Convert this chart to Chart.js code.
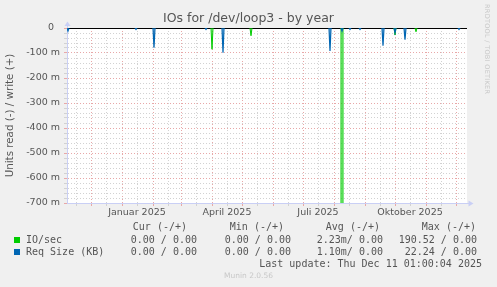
<!DOCTYPE html>
<html>
<head>
<meta charset="utf-8">
<title>IOs for /dev/loop3 - by year</title>
<script src="https://cdn.jsdelivr.net/npm/chart.js@4.4.1/dist/chart.umd.min.js"></script>
<style>
  html, body { margin: 0; padding: 0; background: #f0f0f0; }
  #wrap { position: relative; width: 497px; height: 287px; overflow: hidden;
          font-family: "DejaVu Sans Mono", monospace; font-size: 10px; color: #555; }
  #chart { position: absolute; left: 0; top: 0; }
  .t { position: absolute; white-space: pre; line-height: 12px; }
  .sw { position: absolute; width: 6px; height: 6px; }
  #rrd { position: absolute; left: 483px; top: 4px; writing-mode: vertical-rl;
         font-family: "DejaVu Sans"; font-size: 6.5px; color: #c8c8c8; letter-spacing: 0.3px; }
  #munin { position: absolute; left: 0; width: 497px; top: 271px; text-align: center;
           font-family: "DejaVu Sans"; font-size: 7.5px; color: #c8c8c8; }
</style>
</head>
<body>
<div id="wrap">
  <canvas id="chart" width="497" height="287"></canvas>
  <div id="rrd">RRDTOOL / TOBI OETIKER</div>
  <div id="munin">Munin 2.0.56</div>
</div>
<script>
// time range shown (one pixel per day)
const rangeStart = '2024-11-07';
const rangeEnd = '2025-12-12';

// grid: month starts (red) and mid-month (grey)
const monthStarts = ['2024-12-01', '2025-01-01', '2025-02-01', '2025-03-01', '2025-04-01', '2025-05-01',
                     '2025-06-01', '2025-07-01', '2025-08-01', '2025-09-01', '2025-10-01', '2025-11-01', '2025-12-01'];
const midMonths = ['2024-11-16', '2024-12-16', '2025-01-16', '2025-02-16', '2025-03-16', '2025-04-16', '2025-05-16',
                   '2025-06-16', '2025-07-16', '2025-08-16', '2025-09-16', '2025-10-16', '2025-11-16'];
const labelDates = ['2025-01-16', '2025-04-16', '2025-07-16', '2025-10-16'];
const xLabels = ['Januar 2025', 'April 2025', 'Juli 2025', 'Oktober 2025'];

// IO/sec (read, drawn negative)
const ioDates = ['2025-04-01', '2025-05-10', '2025-08-09', '2025-10-01', '2025-10-22'];
const ioValues = [-0.085, -0.031, -190.52, -0.028, -0.015];

// Req Size (KB) (read, drawn negative)
const reqDates = ['2024-11-08', '2025-01-15', '2025-02-02', '2025-03-26', '2025-04-12', '2025-07-28',
                  '2025-08-09', '2025-08-17', '2025-08-27', '2025-09-19', '2025-10-01', '2025-10-11', '2025-12-04'];
const reqValues = [-0.012, -0.006, -0.079, -0.006, -0.099, -0.092,
                   -0.012, -0.006, -0.006, -0.071, -0.019, -0.047, -0.006];

// y axis range (units)
const yMin = -0.7;
const yMax = 0;

// legend table
const legendHeads = ['Cur (-/+)', 'Min (-/+)', 'Avg (-/+)', 'Max (-/+)'];
const seriesNames = ['IO/sec', 'Req Size (KB)'];
const seriesColors = ['#00cc00', '#0066b3'];
const curValues = ['0.00 / 0.00', '0.00 / 0.00'];
const minValues = ['0.00 / 0.00', '0.00 / 0.00'];
const avgValues = ['2.23m/ 0.00', '1.10m/ 0.00'];
const maxValues = ['190.52 / 0.00', '22.24 / 0.00'];
const lastUpdate = 'Last update: Thu Dec 11 01:00:04 2025';

const baseDate = Date.parse('2024-12-01');
const dayOf = d => Math.round((Date.parse(d) - baseDate) / 86400000);

const redGrid = '#e8a8a8';
const greyGrid = '#d2d2d2';
const axisColor = '#c9cff5';

const startDays = monthStarts.map(dayOf);
const labelDays = labelDates.map(dayOf);

// each sample spike: zero the day before, value, zero the day after
function spikeSeries(dates, values) {
    const pts = [{x: dayOf(rangeStart), y: 0}, {x: dayOf(rangeEnd), y: 0}];
    dates.forEach((d, i) => {
        const x = dayOf(d);
        pts.push({x: x - 1, y: 0}, {x: x, y: values[i]}, {x: x + 1, y: 0});
    });
    return pts.sort((a, b) => a.x - b.x);
}

const hideZero = ctx => (ctx.p0.parsed.y === 0 && ctx.p1.parsed.y === 0) ? 'rgba(0,0,0,0)' : undefined;

const datasets = [
    {
        label: seriesNames[0],
        data: spikeSeries(ioDates, ioValues),
        borderColor: seriesColors[0],
        backgroundColor: 'rgba(0, 204, 0, 0.3)',
        fill: 'origin',
        borderWidth: 1,
        pointRadius: 0,
        tension: 0,
        order: 2,
        segment: {borderColor: hideZero}
    },
    {
        label: seriesNames[1],
        data: spikeSeries(reqDates, reqValues),
        borderColor: seriesColors[1],
        backgroundColor: 'rgba(0, 102, 179, 0.35)',
        fill: 'origin',
        borderWidth: 1.2,
        pointRadius: 0,
        tension: 0,
        order: 1,
        segment: {borderColor: hideZero}
    }
];

const milli = v => Math.round(v * 1000);

// white plot area + axis arrows
const plotDecor = {
    id: 'plotDecor',
    beforeDraw(chart) {
        const {ctx, chartArea: a} = chart;
        ctx.save();
        ctx.fillStyle = '#ffffff';
        ctx.fillRect(a.left, a.top, a.right - a.left, a.bottom - a.top);
        ctx.restore();
    },
    afterDraw(chart) {
        const {ctx, chartArea: a} = chart;
        const l = Math.round(a.left) + 0.5, b = Math.round(a.bottom) + 0.5;
        ctx.save();
        ctx.strokeStyle = axisColor;
        ctx.fillStyle = axisColor;
        ctx.lineWidth = 1;
        ctx.beginPath();
        ctx.moveTo(l, a.top); ctx.lineTo(l, a.top - 2);
        ctx.moveTo(a.right, b); ctx.lineTo(a.right + 2, b);
        ctx.stroke();
        ctx.beginPath();
        ctx.moveTo(l, a.top - 6.5); ctx.lineTo(l - 3, a.top - 2); ctx.lineTo(l + 3, a.top - 2);
        ctx.closePath(); ctx.fill();
        ctx.beginPath();
        ctx.moveTo(a.right + 6.5, b); ctx.lineTo(a.right + 1.5, b - 3); ctx.lineTo(a.right + 1.5, b + 3);
        ctx.closePath(); ctx.fill();
        ctx.restore();
    }
};

const options = {
    responsive: false,
    animation: false,
    devicePixelRatio: 1,
    layout: {padding: 0},
    plugins: {
        legend: {display: false},
        tooltip: {enabled: false},
        title: {
            display: true,
            text: 'IOs for /dev/loop3 - by year',
            color: '#555',
            font: {family: 'DejaVu Sans', size: 12.5, weight: 'normal'},
            padding: {top: 11.5, bottom: 1.5}
        }
    },
    scales: {
        x: {
            type: 'linear',
            min: dayOf(rangeStart),
            max: dayOf(rangeEnd),
            afterBuildTicks: scale => {
                scale.ticks = startDays.concat(midMonths.map(dayOf))
                    .filter(v => v >= scale.min && v <= scale.max)
                    .sort((a, b) => a - b)
                    .map(v => ({value: v}));
            },
            afterFit: scale => { scale.height = 84; },
            grid: {
                color: ctx => (ctx.tick && startDays.includes(ctx.tick.value)) ? redGrid : greyGrid,
                tickColor: ctx => (ctx.tick && startDays.includes(ctx.tick.value)) ? redGrid : greyGrid,
                tickLength: 3,
                lineWidth: 1
            },
            border: {display: true, color: axisColor, dash: ctx => ctx.tick ? [1, 2] : []},
            ticks: {
                autoSkip: false,
                maxRotation: 0,
                padding: 1,
                color: '#555',
                font: {family: 'DejaVu Sans', size: 9.5},
                callback: v => {
                    const i = labelDays.indexOf(v);
                    return i >= 0 ? xLabels[i] : '';
                }
            }
        },
        y: {
            min: yMin,
            max: yMax,
            afterFit: scale => { scale.width = 67; },
            grid: {
                color: ctx => {
                    if (!ctx.tick) return greyGrid;
                    const m = milli(ctx.tick.value);
                    return m === 0 ? '#000000' : (m % 100 === 0 ? redGrid : greyGrid);
                },
                tickColor: ctx => (ctx.tick && milli(ctx.tick.value) % 100 === 0) ? redGrid : greyGrid,
                tickLength: 3,
                lineWidth: 1
            },
            border: {
                display: true,
                color: axisColor,
                dash: ctx => (ctx.tick && milli(ctx.tick.value) !== 0) ? [1, 2] : []
            },
            ticks: {
                stepSize: 0.02,
                autoSkip: false,
                padding: 4,
                color: '#555',
                font: {family: 'DejaVu Sans', size: 9.5},
                callback: v => {
                    const m = milli(v);
                    if (m % 100 !== 0) return '';
                    return m === 0 ? '0  ' : m + ' m';
                }
            },
            title: {
                display: true,
                text: 'Units read (-) / write (+)',
                color: '#555',
                font: {family: 'DejaVu Sans', size: 10.3},
                padding: {top: 4, bottom: 0}
            }
        },
        // empty right-hand margin so the title centres on the whole image
        yr: {
            position: 'right',
            min: yMin,
            max: yMax,
            afterFit: scale => { scale.width = 30; },
            grid: {display: false, drawOnChartArea: false},
            border: {display: false},
            ticks: {display: false}
        }
    }
};

const chart_io = new Chart(document.getElementById('chart'), {
    type: 'line',
    data: {datasets: datasets},
    options: options,
    plugins: [plotDecor]
});

// legend block below the graph
const wrap = document.getElementById('wrap');
function addText(text, right, top) {
    const el = document.createElement('div');
    el.className = 't';
    el.textContent = text;
    el.style.right = (497 - right) + 'px';
    el.style.top = top + 'px';
    wrap.appendChild(el);
}
const headRight = [187, 284, 380, 476];
const valueRight = [197, 291, 383, 477];
legendHeads.forEach((h, i) => addText(h, headRight[i], 221));
seriesNames.forEach((name, r) => {
    const top = 234 + r * 12;
    const sw = document.createElement('div');
    sw.className = 'sw';
    sw.style.left = '14px';
    sw.style.top = (top + 3) + 'px';
    sw.style.background = seriesColors[r];
    wrap.appendChild(sw);
    const lab = document.createElement('div');
    lab.className = 't';
    lab.textContent = name;
    lab.style.left = '26px';
    lab.style.top = top + 'px';
    wrap.appendChild(lab);
    [curValues, minValues, avgValues, maxValues].forEach((col, c) => addText(col[r], valueRight[c], top));
});
addText(lastUpdate, 482, 258);
</script>
</body>
</html>
